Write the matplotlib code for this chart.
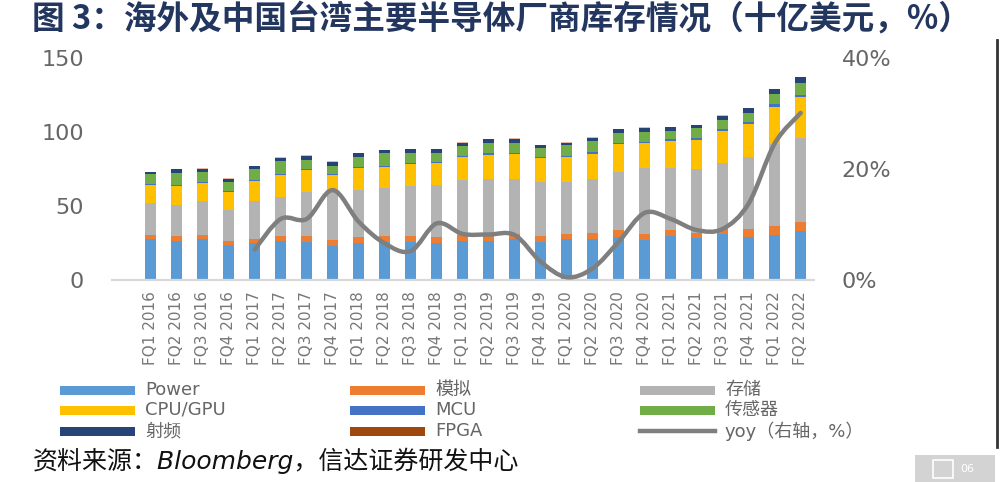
import numpy as np
import matplotlib
matplotlib.use('Agg')
import matplotlib.pyplot as plt
from matplotlib.path import Path
from matplotlib.patches import PathPatch, Rectangle
from matplotlib.lines import Line2D
from matplotlib.ticker import FuncFormatter

plt.rcParams['font.family'] = ['DejaVu Sans', 'Noto Sans CJK SC']

quarters = ['FQ1 2016', 'FQ2 2016', 'FQ3 2016', 'FQ4 2016',
            'FQ1 2017', 'FQ2 2017', 'FQ3 2017', 'FQ4 2017',
            'FQ1 2018', 'FQ2 2018', 'FQ3 2018', 'FQ4 2018',
            'FQ1 2019', 'FQ2 2019', 'FQ3 2019', 'FQ4 2019',
            'FQ1 2020', 'FQ2 2020', 'FQ3 2020', 'FQ4 2020',
            'FQ1 2021', 'FQ2 2021', 'FQ3 2021', 'FQ4 2021',
            'FQ1 2022', 'FQ2 2022']

# inventory, billion USD
power = [27.5, 26.4, 27.5, 23.4, 24.8, 26.1, 25.9, 23.0, 25.2, 25.9, 25.9, 25.2, 26.1,
         26.1, 27.5, 25.7, 27.5, 27.5, 29.3, 27.0, 29.7, 28.6, 30.9, 29.3, 30.6, 32.9]
analog = [3.1, 3.4, 3.1, 3.1, 3.1, 3.6, 3.9, 4.1, 4.1, 3.9, 3.9, 4.1, 4.1,
          3.6, 3.6, 4.1, 3.6, 4.1, 4.5, 4.1, 4.1, 3.4, 3.4, 5.0, 5.9, 6.3]
memory = [21.6, 21.1, 23.0, 20.9, 25.7, 26.4, 29.9, 32.6, 31.6, 32.2, 33.8, 34.9, 37.4,
          38.3, 37.4, 36.7, 35.3, 36.5, 39.4, 44.8, 42.1, 43.0, 45.0, 48.6, 55.4, 57.0]
cpu_gpu = [12.2, 12.4, 12.2, 12.0, 13.5, 14.7, 14.9, 11.3, 14.7, 14.2, 14.9, 14.7, 15.3,
           16.2, 16.5, 15.8, 16.5, 16.9, 18.5, 16.9, 17.8, 19.6, 21.4, 22.5, 25.2, 27.7]
mcu = [0.6, 0.6, 0.6, 0.6, 0.6, 0.6, 0.6, 0.6, 0.7, 0.7, 0.7, 0.7, 0.9,
       1.4, 1.1, 0.7, 0.9, 1.8, 0.7, 0.7, 1.4, 1.1, 1.6, 1.6, 1.8, 1.1]
sensor = [6.6, 8.2, 6.4, 6.2, 7.5, 8.9, 6.0, 5.5, 7.1, 9.2, 6.9, 6.5, 7.0,
          7.2, 6.8, 6.1, 7.4, 7.4, 7.2, 6.6, 5.8, 7.2, 5.9, 6.1, 6.8, 8.3]
rf = [1.1, 2.7, 2.4, 2.2, 1.6, 2.4, 2.9, 2.9, 2.3, 1.8, 2.3, 2.3, 2.0,
      2.5, 2.5, 2.2, 1.6, 2.0, 2.3, 2.7, 2.3, 1.8, 2.7, 3.0, 3.2, 3.6]
fpga = [0.25] * 26

# yoy, % (right axis), starts at FQ1 2017
yoy = [None, None, None, None, 5.5, 11.0, 11.0, 16.2, 10.5, 6.6, 5.2, 10.2, 8.3,
       8.2, 8.1, 3.3, 0.5, 2.1, 6.9, 12.1, 11.0, 9.0, 9.2, 13.8, 24.6, 30.1]

series = [('Power', power, '#5b9bd5'), ('模拟', analog, '#ed7d31'),
          ('存储', memory, '#b3b3b3'), ('CPU/GPU', cpu_gpu, '#ffc000'),
          ('MCU', mcu, '#4472c4'), ('传感器', sensor, '#70ad47'),
          ('射频', rf, '#264478'), ('FPGA', fpga, '#e8b9a0')]

W, H = 1000, 482
def fx(px):
    return px / W
def fy(py):
    return 1 - py / H

fig = plt.figure(figsize=(10, 4.82), dpi=100)
ax = fig.add_axes([fx(111.7), fy(280), fx(813.7) - fx(111.7), fy(58) - fy(280)])

x = np.arange(len(quarters))
bottom = np.zeros(len(quarters))
for name, vals, col in series:
    ax.bar(x, vals, 0.41, bottom=bottom, color=col, linewidth=0, zorder=2)
    bottom += np.array(vals)

ax.set_xlim(-1.5, 25.5)
ax.set_ylim(0, 150)
ax.set_yticks([0, 50, 100, 150])
ax.set_xticks(x)
ax.set_xticklabels(quarters, rotation=90, fontsize=11, color='#777777')
ax.tick_params(axis='x', length=0, pad=8)
ax.tick_params(axis='y', length=0, pad=20, labelsize=16, labelcolor='#666666')
for s in ['top', 'right', 'left']:
    ax.spines[s].set_visible(False)
ax.spines['bottom'].set_color('#d9d9d9')
ax.spines['bottom'].set_linewidth(1.6)

ax2 = ax.twinx()
ax2.set_ylim(0, 40)
ax2.set_yticks([0, 20, 40])
ax2.yaxis.set_major_formatter(FuncFormatter(lambda v, p: f'{v:.0f}%'))
ax2.tick_params(axis='y', length=0, pad=20, labelsize=16, labelcolor='#666666')
for s in ax2.spines.values():
    s.set_visible(False)

# smoothed yoy line (Excel style curve through the points)
pts = np.array([(i, v) for i, v in enumerate(yoy) if v is not None], dtype=float)
ext = np.vstack([pts[0], pts, pts[-1]])
verts = [tuple(pts[0])]
codes = [Path.MOVETO]
for k in range(len(pts) - 1):
    p0, p1, p2, p3 = ext[k], ext[k + 1], ext[k + 2], ext[k + 3]
    c1 = p1 + (p2 - p0) / 6
    c2 = p2 - (p3 - p1) / 6
    verts += [tuple(c1), tuple(c2), tuple(p2)]
    codes += [Path.CURVE4] * 3
ax2.add_patch(PathPatch(Path(verts, codes), fill=False, edgecolor='#7f7f7f',
                        lw=3.2, capstyle='round', joinstyle='round', zorder=3))

# title
fig.text(fx(32), fy(20), '图 3：海外及中国台湾主要半导体厂商库存情况（十亿美元，%）',
         fontsize=23.5, fontweight='bold', color='#23365f',
         family=['Noto Sans CJK SC'], va='center', ha='left')

# legend, 3 columns
legend_items = [('Power', '#5b9bd5', 'bar'), ('模拟', '#ed7d31', 'bar'), ('存储', '#b3b3b3', 'bar'),
                ('CPU/GPU', '#ffc000', 'bar'), ('MCU', '#4472c4', 'bar'), ('传感器', '#70ad47', 'bar'),
                ('射频', '#264478', 'bar'), ('FPGA', '#9e480e', 'bar'),
                ('yoy（右轴，%）', '#7f7f7f', 'line')]
col_x = [60, 350, 640]
row_y = [390, 410, 431]
for k, (lab, col, kind) in enumerate(legend_items):
    cx = col_x[k % 3]
    ry = row_y[k // 3]
    if kind == 'bar':
        fig.patches.append(Rectangle((fx(cx), fy(ry + 4.5)), fx(75), 9 / H,
                                     transform=fig.transFigure, color=col, lw=0))
    else:
        fig.lines.append(Line2D([fx(cx), fx(cx + 75)], [fy(ry), fy(ry)],
                                transform=fig.transFigure, color=col, lw=3.2))
    fig.text(fx(cx + 85), fy(ry), lab, fontsize=13, color='#666666',
             va='center', ha='left')

# source
fig.text(fx(33), fy(461), '资料来源：Bloomberg，信达证券研发中心', fontsize=18,
         style='italic', color='#111111', va='center', ha='left')

# page badge and frame edge
fig.patches.append(Rectangle((fx(915), 0), fx(80), 27 / H, transform=fig.transFigure,
                             color='#d3d3d3', lw=0))
fig.patches.append(Rectangle((fx(933), fy(478)), fx(20), 18 / H, transform=fig.transFigure,
                             facecolor='none', edgecolor='white', lw=1.2))
fig.text(fx(960), fy(469), '06', fontsize=8, color='white', va='center', ha='left')
fig.lines.append(Line2D([fx(997), fx(997)], [fy(40), fy(447)], transform=fig.transFigure,
                        color='#333333', lw=2))

fig.savefig('out.png', dpi=100)
